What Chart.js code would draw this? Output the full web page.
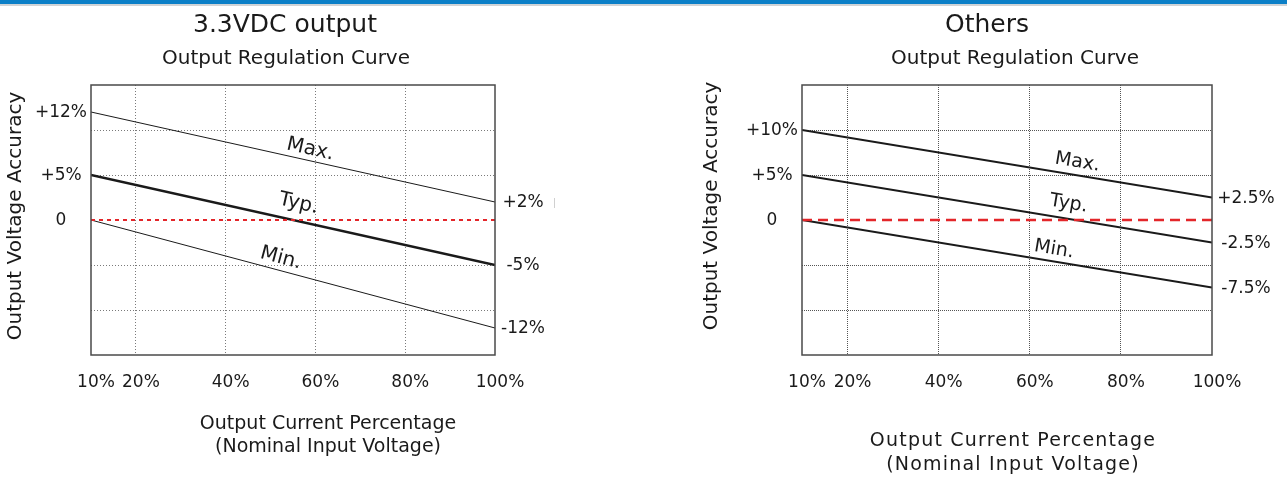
<!DOCTYPE html>
<html>
<head>
<meta charset="utf-8">
<script src="https://cdn.jsdelivr.net/npm/chart.js@4.4.0/dist/chart.umd.min.js"></script>
<style>
  html, body { margin: 0; padding: 0; background: #fff; }
  body { width: 1287px; height: 477px; position: relative; overflow: hidden; }
  .topbar { position: absolute; left: 0; top: 0; width: 1287px; height: 4px; background: #0b7fc7; }
  .topline { position: absolute; left: 0; top: 4px; width: 1287px; height: 2px; background: #cfd3d6; }
  .speck { position: absolute; left: 554px; top: 198px; width: 1px; height: 10px; background: #d0d0d0; }
  canvas { position: absolute; top: 0; }
  #leftChart { left: 0; }
  #rightChart { left: 643px; }
</style>
</head>
<body>
<div class="topbar"></div>
<div class="topline"></div>
<canvas id="leftChart" width="643" height="477"></canvas>
<canvas id="rightChart" width="644" height="477"></canvas>
<div class="speck"></div>
<script>
// load points of the curves (output current %)
const loadPoints = [10, 100];
const xTickValues = [10, 20, 40, 60, 80, 100];
const zeroLine = [0, 0];
const curveNames = ['Max.', 'Typ.', 'Min.'];

// 3.3VDC output
const leftMax = [12, 2];
const leftTyp = [5, -5];
const leftMin = [0, -12];
const leftStartLabels = [12, 5, 0];
const leftEndLabels = [2, -5, -12];

// Others
const rightMax = [10, 2.5];
const rightTyp = [5, -2.5];
const rightMin = [0, -7.5];
const rightStartLabels = [10, 5, 0];
const rightEndLabels = [2.5, -2.5, -7.5];

const FONT = '"DejaVu Sans", sans-serif';
const INK = '#1a1a1a';
const RED = '#e3262a';

function toPoints(values) {
    return loadPoints.map((x, i) => ({ x: x, y: values[i] }));
}

function fmt(v) {
    if (v === 0) return '0';
    return (v > 0 ? '+' : '') + v + '%';
}

// draws frame, titles, tick labels and curve names
const regLabels = {
    id: 'regLabels',
    afterDraw(chart) {
        const c = chart.options.plugins.regLabels;
        const { ctx, chartArea: a } = chart;
        const x = chart.scales.x, y = chart.scales.y;

        ctx.save();
        ctx.strokeStyle = '#4a4a4a';
        ctx.lineWidth = 1.5;
        ctx.strokeRect(a.left, a.top, a.width, a.height);

        ctx.fillStyle = INK;
        ctx.textAlign = 'center';
        ctx.textBaseline = 'alphabetic';
        ctx.font = '25px ' + FONT;
        ctx.fillText(c.title, c.titleX, 32);
        ctx.font = '20px ' + FONT;
        ctx.fillText('Output Regulation Curve', c.subtitleX, 64);

        ctx.font = '17px ' + FONT;
        ctx.textBaseline = 'middle';
        xTickValues.forEach(v => {
            ctx.fillText(v + '%', x.getPixelForValue(v) + 5, a.bottom + 28);
        });
        c.startLabels.forEach(v => {
            ctx.fillText(fmt(v), a.left - 30, y.getPixelForValue(v) + 1);
        });
        c.endLabels.forEach(v => {
            ctx.fillText(fmt(v), a.right + c.endDx, y.getPixelForValue(v) + 1);
        });

        // axis titles
        ctx.font = '20px ' + FONT;
        ctx.save();
        ctx.translate(c.yTitleX, c.yTitleY);
        ctx.rotate(-Math.PI / 2);
        ctx.fillText('Output Voltage Accuracy', 0, 0);
        ctx.restore();

        ctx.font = '19px ' + FONT;
        ctx.letterSpacing = c.xTitleSpacing;
        ctx.fillText('Output Current Percentage', c.xTitleX, c.xTitleY[0]);
        ctx.fillText('(Nominal Input Voltage)', c.xTitleX, c.xTitleY[1]);
        ctx.letterSpacing = '0px';

        // curve names sit on their lines
        ctx.font = c.nameFont + ' ' + FONT;
        ctx.textBaseline = 'alphabetic';
        c.curves.forEach((curve, i) => {
            const x1 = x.getPixelForValue(loadPoints[0]), y1 = y.getPixelForValue(curve[0]);
            const x2 = x.getPixelForValue(loadPoints[1]), y2 = y.getPixelForValue(curve[1]);
            const px = x.getPixelForValue(c.nameAt[i]);
            const py = y1 + (y2 - y1) * (px - x1) / (x2 - x1);
            ctx.save();
            ctx.translate(px, py);
            ctx.rotate(Math.atan2(y2 - y1, x2 - x1));
            ctx.fillText(curveNames[i], 0, -c.nameLift[i]);
            ctx.restore();
        });
        ctx.restore();
    }
};

function makeChart(id, c) {
    const hideAt = edges => (context) => {
        if (context.tick && edges.includes(context.tick.value)) return 'rgba(0,0,0,0)';
        return c.gridColor;
    };
    const datasets = [
        { data: toPoints(zeroLine), borderColor: RED, borderWidth: c.zeroWidth, borderDash: c.zeroDash }
    ];
    c.curves.forEach((curve, i) => {
        datasets.push({ data: toPoints(curve), borderColor: INK, borderWidth: c.widths[i] });
    });

    return new Chart(document.getElementById(id), {
        type: 'line',
        data: { datasets: datasets },
        plugins: [regLabels],
        options: {
            responsive: false,
            animation: false,
            devicePixelRatio: 1,
            layout: { padding: c.padding, autoPadding: false },
            elements: { point: { radius: 0 }, line: { tension: 0 } },
            plugins: { legend: { display: false }, tooltip: { enabled: false }, regLabels: c },
            scales: {
                x: {
                    type: 'linear', min: 10, max: 100,
                    afterBuildTicks: s => { s.ticks = xTickValues.map(v => ({ value: v })); },
                    ticks: { display: false },
                    grid: { drawTicks: false, color: hideAt([10, 100]), lineWidth: 1 },
                    border: { display: false, dash: c.gridDash }
                },
                y: {
                    type: 'linear', min: -15, max: 15,
                    ticks: { display: false, stepSize: 5 },
                    grid: { drawTicks: false, color: hideAt([-15, 0, 15]), lineWidth: 1 },
                    border: { display: false, dash: c.gridDash }
                }
            }
        }
    });
}

makeChart('leftChart', {
    title: '3.3VDC output', titleX: 285, subtitleX: 286,
    padding: { left: 91, right: 148, top: 85, bottom: 122 },
    curves: [leftMax, leftTyp, leftMin], widths: [1, 2.5, 1],
    zeroWidth: 2, zeroDash: [4, 4],
    gridColor: '#7a7a7a', gridDash: [1, 2],
    startLabels: leftStartLabels, endLabels: leftEndLabels, endDx: 28,
    nameFont: '20px', nameAt: [58.3, 55.4, 51.6], nameLift: [6, 12, 7],
    yTitleX: 16, yTitleY: 216,
    xTitleX: 328, xTitleY: [424, 447], xTitleSpacing: '0px'
});

makeChart('rightChart', {
    title: 'Others', titleX: 344, subtitleX: 372,
    padding: { left: 159, right: 75, top: 85, bottom: 122 },
    curves: [rightMax, rightTyp, rightMin], widths: [2, 2, 2],
    zeroWidth: 2.5, zeroDash: [10, 6],
    gridColor: '#555555', gridDash: [1, 1],
    startLabels: rightStartLabels, endLabels: rightEndLabels, endDx: 34,
    nameFont: '19px', nameAt: [70.0, 68.0, 64.9], nameLift: [8, 10, 7],
    yTitleX: 69, yTitleY: 206,
    xTitleX: 370, xTitleY: [441, 465], xTitleSpacing: '1.2px'
});
</script>
</body>
</html>
